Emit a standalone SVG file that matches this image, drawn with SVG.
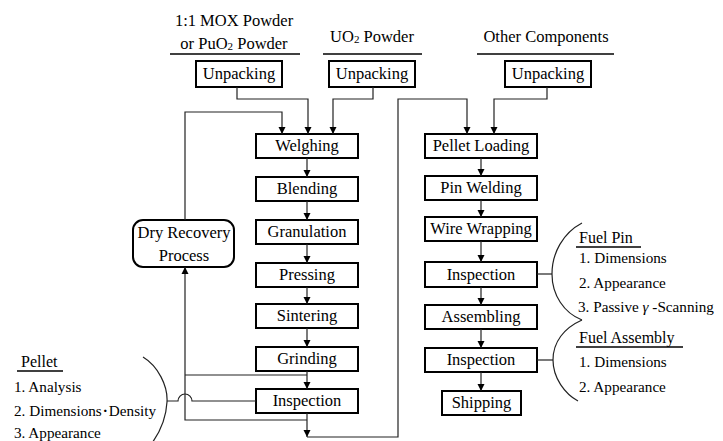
<svg xmlns="http://www.w3.org/2000/svg" width="723" height="441" viewBox="0 0 723 441">
  <defs>
    <marker id="arr" viewBox="0 0 10 10" refX="10" refY="5" markerWidth="7" markerHeight="8" markerUnits="userSpaceOnUse" orient="auto">
      <path d="M0 0 L10 5 L0 10 Z" fill="#000"/>
    </marker>
  </defs>
  <rect width="723" height="441" fill="#fff"/>

  <!-- supply headings -->
  <g font-size="16.5" text-anchor="middle" fill="#000">
    <g id="src-mox">
      <text font-family="Liberation Serif" x="234" y="26">1:1 MOX Powder</text>
      <text font-family="Liberation Serif" x="234" y="49">or PuO<tspan font-size="11" dy="1">2</tspan><tspan dy="-1"> Powder</tspan></text>
      <line x1="170" y1="54" x2="300" y2="54" stroke="#000" stroke-width="1.5"/>
    </g>
    <g id="src-uo2">
      <text font-family="Liberation Serif" x="372" y="42">UO<tspan font-size="11" dy="1">2</tspan><tspan dy="-1"> Powder</tspan></text>
      <line x1="323" y1="54" x2="422" y2="54" stroke="#000" stroke-width="1.5"/>
    </g>
    <g id="src-other">
      <text font-family="Liberation Serif" x="546" y="42">Other Components</text>
      <line x1="477" y1="54" x2="614" y2="54" stroke="#000" stroke-width="1.5"/>
    </g>
  </g>

  <!-- process boxes: white fill, 2px black frame -->
  <g font-size="16.5" text-anchor="middle">
    <g id="unpack-mox"><rect x="196" y="61" width="86" height="26" fill="#fff" stroke="#000" stroke-width="2"/><text font-family="Liberation Serif" x="239" y="79">Unpacking</text></g>
    <g id="unpack-uo2"><rect x="329" y="61" width="86" height="26" fill="#fff" stroke="#000" stroke-width="2"/><text font-family="Liberation Serif" x="372" y="79">Unpacking</text></g>
    <g id="unpack-other"><rect x="505" y="61" width="86" height="26" fill="#fff" stroke="#000" stroke-width="2"/><text font-family="Liberation Serif" x="548" y="79">Unpacking</text></g>

    <!-- pellet line -->
    <g id="weighing"><rect x="256" y="134" width="102" height="24" fill="#fff" stroke="#000" stroke-width="2"/><text font-family="Liberation Serif" x="307" y="151">Welghing</text></g>
    <g id="blending"><rect x="256" y="177" width="102" height="24" fill="#fff" stroke="#000" stroke-width="2"/><text font-family="Liberation Serif" x="307" y="194">Blending</text></g>
    <g id="granulation"><rect x="256" y="220" width="102" height="24" fill="#fff" stroke="#000" stroke-width="2"/><text font-family="Liberation Serif" x="307" y="237">Granulation</text></g>
    <g id="pressing"><rect x="256" y="263" width="102" height="24" fill="#fff" stroke="#000" stroke-width="2"/><text font-family="Liberation Serif" x="307" y="280">Pressing</text></g>
    <g id="sintering"><rect x="256" y="304" width="102" height="24" fill="#fff" stroke="#000" stroke-width="2"/><text font-family="Liberation Serif" x="307" y="321">Sintering</text></g>
    <g id="grinding"><rect x="256" y="347" width="102" height="24" fill="#fff" stroke="#000" stroke-width="2"/><text font-family="Liberation Serif" x="307" y="364">Grinding</text></g>
    <g id="pellet-inspection"><rect x="256" y="389" width="102" height="24" fill="#fff" stroke="#000" stroke-width="2"/><text font-family="Liberation Serif" x="307" y="406">Inspection</text></g>

    <g id="dry-recovery">
      <rect x="133" y="220" width="101" height="47" rx="10" fill="#fff" stroke="#000" stroke-width="2"/>
      <text font-family="Liberation Serif" x="184" y="238">Dry Recovery</text>
      <text font-family="Liberation Serif" x="184" y="261">Process</text>
    </g>

    <!-- pin and assembly line -->
    <g id="pellet-loading"><rect x="425" y="134" width="112" height="24" fill="#fff" stroke="#000" stroke-width="2"/><text font-family="Liberation Serif" x="481" y="151">Pellet Loading</text></g>
    <g id="pin-welding"><rect x="425" y="176" width="112" height="24" fill="#fff" stroke="#000" stroke-width="2"/><text font-family="Liberation Serif" x="481" y="193">Pin Welding</text></g>
    <g id="wire-wrapping"><rect x="425" y="217" width="112" height="24" fill="#fff" stroke="#000" stroke-width="2"/><text font-family="Liberation Serif" x="481" y="234">Wire Wrapping</text></g>
    <g id="pin-inspection"><rect x="425" y="262" width="112" height="25" fill="#fff" stroke="#000" stroke-width="2"/><text font-family="Liberation Serif" x="481" y="280">Inspection</text></g>
    <g id="assembling"><rect x="425" y="305" width="112" height="24" fill="#fff" stroke="#000" stroke-width="2"/><text font-family="Liberation Serif" x="481" y="322">Assembling</text></g>
    <g id="assembly-inspection"><rect x="425" y="348" width="112" height="24" fill="#fff" stroke="#000" stroke-width="2"/><text font-family="Liberation Serif" x="481" y="365">Inspection</text></g>
    <g id="shipping"><rect x="442" y="391" width="79" height="24" fill="#fff" stroke="#000" stroke-width="2"/><text font-family="Liberation Serif" x="481.5" y="408">Shipping</text></g>
  </g>

  <!-- inspection item lists -->
  <g font-size="15.2" fill="#000">
    <g id="pellet-items">
      <text font-family="Liberation Serif" font-size="16" x="21" y="367">Pellet</text>
      <line x1="17" y1="371" x2="63" y2="371" stroke="#000" stroke-width="1.5"/>
      <text font-family="Liberation Serif" x="14" y="392">1. Analysis</text>
      <text font-family="Liberation Serif" x="14" y="416">2. Dimensions<tspan font-weight="bold" dx="1">&#183;</tspan><tspan dx="1">Density</tspan></text>
      <text font-family="Liberation Serif" x="14" y="438">3. Appearance</text>
      <path d="M143 357 C158 366 168 386 167 402 C166 420 160 432 152 443" fill="none" stroke="#222" stroke-width="1.2"/>
    </g>
    <g id="pin-items">
      <text font-family="Liberation Serif" font-size="16" x="579" y="243">Fuel Pin</text>
      <line x1="576" y1="247" x2="641" y2="247" stroke="#000" stroke-width="1.5"/>
      <text font-family="Liberation Serif" x="579" y="263">1. Dimensions</text>
      <text font-family="Liberation Serif" x="579" y="288">2. Appearance</text>
      <text font-family="Liberation Serif" x="578" y="312">3. Passive <tspan font-style="italic">&#947;</tspan> -Scanning</text>
      <path d="M582 223 C563 233 552 253 552 274 C552 295 564 313 582 320" fill="none" stroke="#222" stroke-width="1.2"/>
    </g>
    <g id="assembly-items">
      <text font-family="Liberation Serif" font-size="16" x="579" y="343">Fuel Assembly</text>
      <line x1="576" y1="347" x2="683" y2="347" stroke="#000" stroke-width="1.5"/>
      <text font-family="Liberation Serif" x="579" y="367">1. Dimensions</text>
      <text font-family="Liberation Serif" x="579" y="392">2. Appearance</text>
      <path d="M582 320 C564 328 553 342 553 360 C553 378 565 394 578 401" fill="none" stroke="#222" stroke-width="1.2"/>
    </g>
  </g>

  <g id="connectors" fill="none" stroke="#222" stroke-width="1.2">
    <g marker-end="url(#arr)">
      <!-- feeds into weighing -->
      <path d="M237 87 V99 H308 V134"/>
      <path d="M373 87 V99 H333 V134"/>
      <path d="M185 220 V112 H282 V134"/>
      <!-- pellet process chain -->
      <path d="M307 158 V177"/>
      <path d="M307 201 V220"/>
      <path d="M307 244 V263"/>
      <path d="M307 287 V304"/>
      <path d="M307 328 V347"/>
      <path d="M307 371 V389"/>
      <path d="M307 413 V437"/>
      <!-- rejects back to dry recovery -->
      <path d="M307 420 H185 V267"/>
      <!-- accepted pellets to loading -->
      <path d="M307 437 H398 V99 H467 V134"/>
      <path d="M547 87 V99 H494 V134"/>
      <!-- pin and assembly chain -->
      <path d="M481 158 V176"/>
      <path d="M481 200 V217"/>
      <path d="M481 241 V262"/>
      <path d="M481 287 V305"/>
      <path d="M481 329 V348"/>
      <path d="M481 372 V391"/>
    </g>
    <path d="M307 375 H185"/>
    <!-- inspection ties to item lists, hopping over the reject line -->
    <path d="M167 401 H178 A7 7 0 0 1 192 401 H256"/>
    <path d="M537 274 H552"/>
    <path d="M537 360 H553"/>
  </g>
</svg>
